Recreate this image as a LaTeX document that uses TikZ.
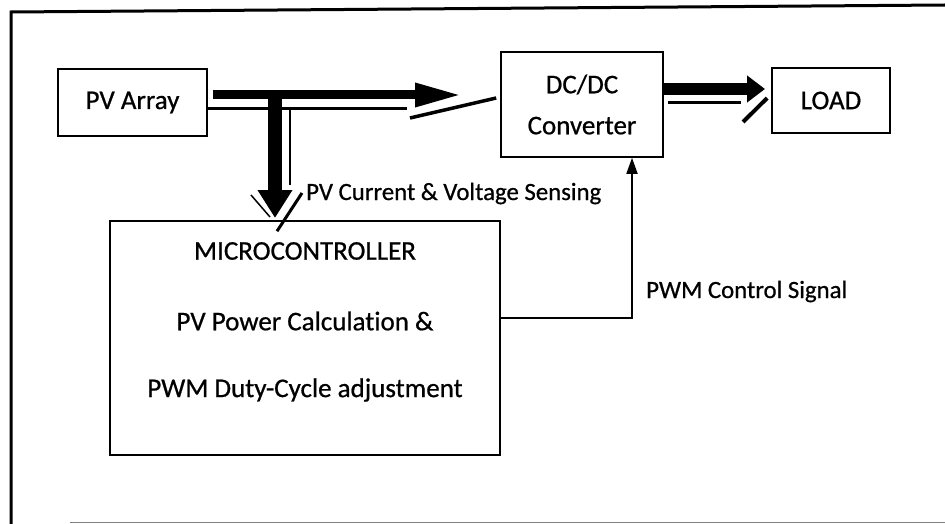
\documentclass[tikz,border=0pt]{standalone}
\usepackage{fontspec}
\setmainfont[Ligatures=NoCommon, FakeBold=0.7]{Carlito}
\usetikzlibrary{arrows.meta,calc}
\begin{document}
\begin{tikzpicture}[x=1pt,y=-1pt,
  box/.style={draw, line width=1.6pt, inner sep=0pt, font=\fontsize{27}{41}\selectfont, align=center},
  bigtxt/.style={font=\fontsize{27}{32}\selectfont, inner sep=0pt},
  lbl/.style={font=\fontsize{24.8}{28}\selectfont, inner sep=0pt, anchor=base west},
  deco/.style={line cap=butt}]
\useasboundingbox (0,0) rectangle (945,524);
\fill[white] (0,0) rectangle (945,524);
% frame
\draw[line width=3pt] (945,5) -- (11,12) -- (11,524);
\draw[gray, line width=1pt] (70,522) -- (945,522);
% boxes
\node[box, minimum width=149pt, minimum height=67pt] (pv) at (132.5,102.5) {PV Array};
\node[box, minimum width=162pt, minimum height=105pt] (dc) at (582,104.5) {DC/DC\\Converter};
\node[box, minimum width=118pt, minimum height=65pt] (load) at (831,100.5) {LOAD};
\node[box, minimum width=390pt, minimum height=234pt] (micro) at (305,338) {};
\node[bigtxt] (m1) at (305,251) {MICROCONTROLLER};
\node[bigtxt] (m2) at (305,321) {PV Power Calculation \&};
\node[bigtxt] (m3) at (305,390) {PWM Duty-Cycle adjustment};
% PV -> DC thick arrow
\coordinate (t1) at (462,95);
\draw[line width=9pt, -{Triangle[length=47pt,width=22pt]}] ($(pv.east |- t1)+(5,0)$) -- (t1);
\coordinate (th1) at (407,109);
\draw[line width=3pt, deco] (pv.east |- th1) -- (th1);
\coordinate (s1a) at (410,118);
\draw[line width=3.5pt, deco] (s1a) -- ($(dc.west |- s1a)+(-4,-20)$);
% vertical thick arrow to micro
\coordinate (t2) at (275,218);
\draw[line width=14pt, -{Triangle[length=28pt,width=33pt]}] (275,99) -- (t2);
\coordinate (th2) at (290,185);
\draw[line width=2.5pt, deco] (th2 |- th1) -- (th2);
\draw[line width=1.5pt, deco] (251,195) -- (270,217);
\draw[line width=3pt, deco] (302,193) -- ($(micro.north -| 277,0)+(0,11)$);
% DC -> LOAD thick arrow
\coordinate (t3) at (765,89);
\draw[line width=12pt, -{Triangle[length=18pt,width=26pt]}] (dc.east |- t3) -- (t3);
\coordinate (th3) at (741,103);
\draw[line width=3pt, deco] ($(dc.east |- th3)+(4,0)$) -- (th3);
\draw[line width=4pt, deco] (743,122) -- ($(load.west |- 0,98)+(-4,0)$);
% PWM control
\coordinate (pw) at (632,318);
\draw[line width=1.8pt, -{Triangle[length=16pt,width=11pt]}] (micro.east |- pw) -- (pw) -- (pw |- dc.south);
% labels
\node[lbl] (lab1) at (306,200) {PV Current \& Voltage Sensing};
\node[lbl] (lab2) at (646,298) {PWM Control Signal};
\end{tikzpicture}
\end{document}
